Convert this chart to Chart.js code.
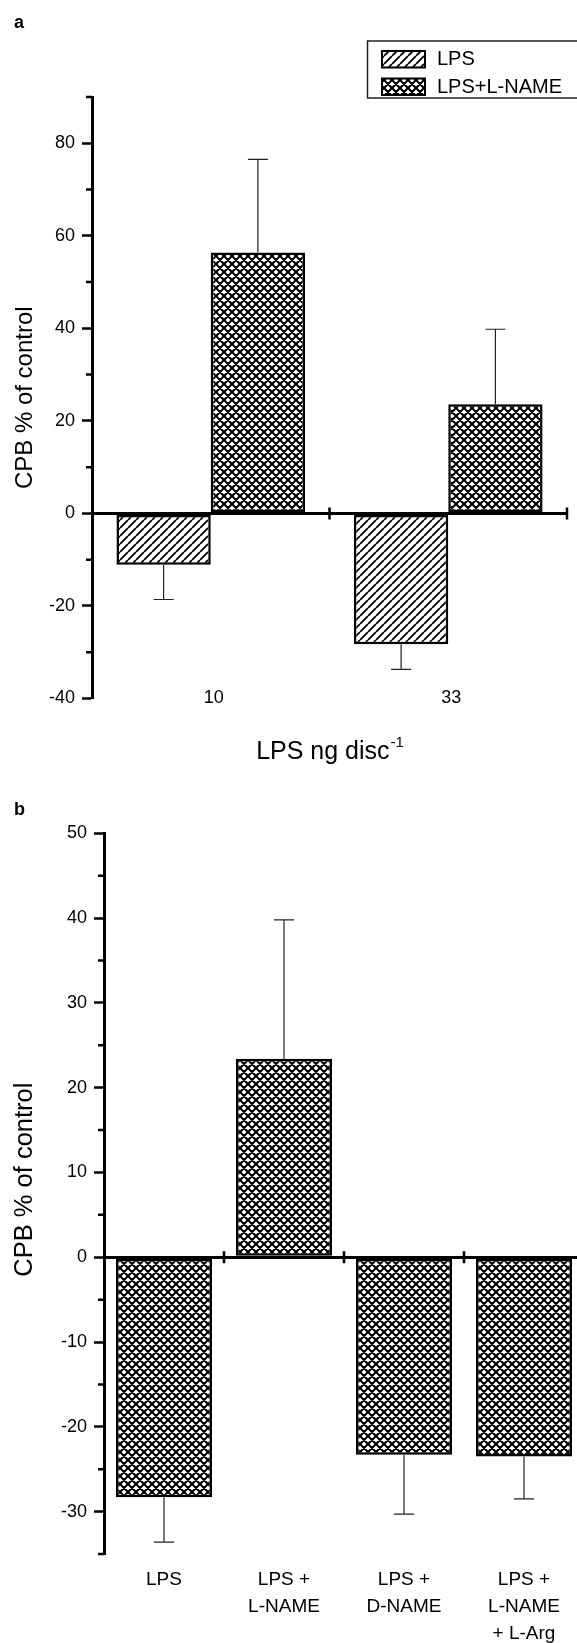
<!DOCTYPE html>
<html>
<head>
<meta charset="utf-8">
<script src="https://cdn.jsdelivr.net/npm/chart.js@4.4.1/dist/chart.umd.min.js"></script>
<style>
  html, body { margin: 0; padding: 0; background: #fff; overflow: hidden; }
  #wrap { position: relative; width: 577px; height: 1643px; overflow: hidden; }
  canvas { position: absolute; left: 0; }
  #chartA { top: 0; }
  #chartB { top: 780px; }
</style>
</head>
<body>
<div id="wrap">
  <canvas id="chartA" width="600" height="780"></canvas>
  <canvas id="chartB" width="600" height="863"></canvas>
</div>
<script>
// panel a : LPS dose, with / without L-NAME
const doses = ['10', '33'];
const lpsMean = [-11.1, -28.3];
const lpsSem = [7.5, 5.4];
const lnameMean = [56.4, 23.6];
const lnameSem = [20.1, 16.2];
const seriesNames = ['LPS', 'LPS+L-NAME'];

// panel b : treatments at 33 ng
const treatments = [['LPS'], ['LPS +', 'L-NAME'], ['LPS +', 'D-NAME'], ['LPS +', 'L-NAME', '+ L-Arg']];
const treatMean = [-28.3, 23.4, -23.3, -23.5];
const treatSem = [5.3, 16.4, 7.0, 5.0];

const FONT = "'Liberation Sans', Arial, Helvetica, sans-serif";
Chart.defaults.font.family = FONT;
Chart.defaults.color = '#000';

// fill patterns (diagonal hatch and cross hatch)
function makePattern(cross) {
  const c = document.createElement('canvas');
  c.width = c.height = 8;
  const g = c.getContext('2d');
  g.fillStyle = '#fff';
  g.fillRect(0, 0, 8, 8);
  g.strokeStyle = '#000';
  g.lineWidth = cross ? 2.1 : 1.8;
  g.beginPath();
  for (const o of [-8, 0, 8]) {
    g.moveTo(o, 8); g.lineTo(o + 8, 0);
    if (cross) { g.moveTo(o, 0); g.lineTo(o + 8, 8); }
  }
  g.stroke();
  return g.createPattern(c, 'repeat');
}
const hatchFill = makePattern(false);
const crossFill = makePattern(true);

// one-sided error bars
const errorBars = {
  id: 'errorBars',
  afterDatasetsDraw(chart) {
    const ctx = chart.ctx, y = chart.scales.y;
    ctx.save();
    ctx.strokeStyle = '#222';
    ctx.lineWidth = 1.2;
    chart.data.datasets.forEach((ds, i) => {
      chart.getDatasetMeta(i).data.forEach((bar, j) => {
        const v = ds.data[j];
        const end = v + Math.sign(v) * ds.errors[j];
        const y0 = y.getPixelForValue(v), y1 = y.getPixelForValue(end);
        ctx.beginPath();
        ctx.moveTo(bar.x, y0); ctx.lineTo(bar.x, y1);
        ctx.moveTo(bar.x - 10, y1); ctx.lineTo(bar.x + 10, y1);
        ctx.stroke();
      });
    });
    ctx.restore();
  }
};

// minor ticks, ticks on the zero line, titles, legend
const axisDecor = {
  id: 'axisDecor',
  afterDraw(chart, args, o) {
    const { ctx, chartArea: area, scales: { x, y } } = chart;
    ctx.save();
    ctx.strokeStyle = '#000';
    ctx.lineWidth = 2.5;
    ctx.beginPath();
    for (let v = y.min; v <= y.max + 1e-6; v += o.minorStep) {
      if (Math.abs(v % o.majorStep) > 1e-6) {
        const py = y.getPixelForValue(v);
        ctx.moveTo(area.left - 6, py); ctx.lineTo(area.left, py);
      }
    }
    const y0 = y.getPixelForValue(0);
    chart.data.labels.forEach((l, i) => {
      const px = x.getPixelForValue(i + 0.5);
      ctx.moveTo(px, y0 - 6); ctx.lineTo(px, y0 + 6);
    });
    ctx.stroke();

    ctx.fillStyle = '#000';
    // category labels sitting level with the bottom of the y axis
    if (o.catLabelY) {
      ctx.font = '18px ' + FONT;
      ctx.textAlign = 'center';
      ctx.textBaseline = 'middle';
      chart.data.labels.forEach((l, i) => {
        ctx.fillText(l, x.getPixelForValue(i) + 3, o.catLabelY);
      });
    }

    // panel letter
    ctx.font = 'bold 18px ' + FONT;
    ctx.textAlign = 'left';
    ctx.textBaseline = 'alphabetic';
    ctx.fillText(o.panel, 14, o.panelY);

    // y title
    ctx.save();
    ctx.font = o.yTitleSize + 'px ' + FONT;
    ctx.translate(25, (area.top + area.bottom) / 2 + o.yTitleShift);
    ctx.rotate(-Math.PI / 2);
    ctx.textAlign = 'center';
    ctx.textBaseline = 'middle';
    ctx.fillText('CPB % of control', 0, 0);
    ctx.restore();

    if (o.xTitle) {
      ctx.font = '25px ' + FONT;
      const w1 = ctx.measureText(o.xTitle).width;
      ctx.font = '15px ' + FONT;
      const w2 = ctx.measureText(o.xSup).width;
      const sx = (area.left + area.right) / 2 - (w1 + w2) / 2;
      ctx.font = '25px ' + FONT;
      ctx.fillText(o.xTitle, sx, o.xTitleY);
      ctx.font = '15px ' + FONT;
      ctx.fillText(o.xSup, sx + w1 + 1, o.xTitleY - 12);
    }

    if (o.legend) {
      ctx.lineWidth = 1.5;
      ctx.strokeStyle = '#222';
      ctx.strokeRect(367.5, 41, 240, 57);
      ctx.font = '20px ' + FONT;
      ctx.textBaseline = 'middle';
      chart.data.datasets.forEach((ds, i) => {
        const top = 51 + i * 27.5;
        ctx.fillStyle = ds.backgroundColor;
        ctx.fillRect(382, top, 43, 16.5);
        ctx.strokeStyle = '#000';
        ctx.lineWidth = 2;
        ctx.strokeRect(382, top, 43, 16.5);
        ctx.fillStyle = '#000';
        ctx.fillText(ds.label, 437, top + 8.5);
      });
    }
    ctx.restore();
  }
};

function yAxis(min, max, step, width) {
  return {
    min: min, max: max,
    afterFit: s => { s.width = width; },
    ticks: { stepSize: step, includeBounds: false, padding: 7, font: { size: 18 }, color: '#000' },
    grid: {
      drawOnChartArea: true, drawTicks: true, tickLength: 10, tickWidth: 2.5, tickColor: '#000',
      color: c => (c.tick && c.tick.value === 0) ? '#000' : 'rgba(0,0,0,0)',
      lineWidth: c => (c.tick && c.tick.value === 0) ? 3 : 1
    },
    border: { display: true, color: '#000', width: 3 }
  };
}

new Chart(document.getElementById('chartA'), {
  type: 'bar',
  data: {
    labels: doses,
    datasets: [
      { label: seriesNames[0], data: lpsMean, errors: lpsSem, backgroundColor: hatchFill,
        borderColor: '#000', borderWidth: 2.5, borderSkipped: false },
      { label: seriesNames[1], data: lnameMean, errors: lnameSem, backgroundColor: crossFill,
        borderColor: '#000', borderWidth: 2.5, borderSkipped: false }
    ]
  },
  options: {
    responsive: false,
    animation: false,
    devicePixelRatio: 1,
    categoryPercentage: 0.794,
    barPercentage: 1,
    layout: { padding: { top: 97, right: 33, bottom: 0, left: 0 } },
    scales: {
      x: {
        afterFit: s => { s.height = 81.5; },
        grid: { display: false, drawTicks: false },
        border: { display: false },
        ticks: { display: false }
      },
      y: yAxis(-40, 90, 20, 92)
    },
    plugins: {
      legend: { display: false },
      tooltip: { enabled: false },
      axisDecor: { panel: 'a', panelY: 28, minorStep: 10, majorStep: 20, yTitleSize: 24, yTitleShift: 0,
        catLabelY: 698, xTitle: 'LPS ng disc', xSup: '-1', xTitleY: 759, legend: true }
    }
  },
  plugins: [errorBars, axisDecor]
});

new Chart(document.getElementById('chartB'), {
  type: 'bar',
  data: {
    labels: treatments,
    datasets: [
      { label: 'CPB', data: treatMean, errors: treatSem, backgroundColor: crossFill,
        borderColor: '#000', borderWidth: 2.5, borderSkipped: false }
    ]
  },
  options: {
    responsive: false,
    animation: false,
    devicePixelRatio: 1,
    categoryPercentage: 0.8,
    barPercentage: 1,
    layout: { padding: { top: 53.3, right: 16, bottom: 0, left: 0 } },
    scales: {
      x: {
        afterFit: s => { s.height = 89; },
        grid: { display: false, drawTicks: false },
        border: { display: false },
        ticks: { padding: 12.5, font: { size: 19, lineHeight: 1.42 }, color: '#000', autoSkip: false, maxRotation: 0 }
      },
      y: yAxis(-35, 50, 10, 104)
    },
    plugins: {
      legend: { display: false },
      tooltip: { enabled: false },
      axisDecor: { panel: 'b', panelY: 35, minorStep: 5, majorStep: 10, yTitleSize: 25.5, yTitleShift: -14 }
    }
  },
  plugins: [errorBars, axisDecor]
});
</script>
</body>
</html>
